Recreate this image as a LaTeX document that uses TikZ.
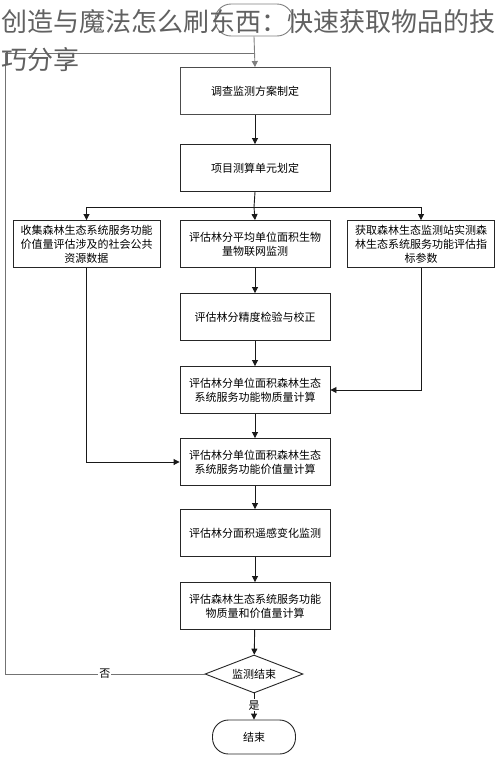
\documentclass[tikz,border=0pt]{standalone}
\usepackage{fontspec}
\newfontfamily\cjk{Noto Sans CJK SC}
\usetikzlibrary{shapes.geometric,arrows.meta}
\begin{document}
\begin{tikzpicture}[x=1pt,y=-1pt,
  box/.style={draw=black!85,line width=0.9pt,minimum width=150pt,minimum height=47pt,
    text width=146pt,align=center,inner sep=1pt,font=\cjk\fontsize{11}{14}\selectfont},
  wbox/.style={box,minimum width=147pt,text width=145pt},
  term/.style={draw=black!85,line width=0.9pt,rounded corners=16pt,minimum height=33pt,
    font=\cjk\fontsize{11}{14}\selectfont},
  dec/.style={draw=black!85,line width=0.9pt,diamond,aspect=2.6,inner sep=0pt,
    minimum width=98pt,minimum height=38pt,font=\cjk\fontsize{11}{14}\selectfont},
  arr/.style={draw=black!90,line width=0.9pt,-{Triangle[width=6pt,length=6pt]}},
  ln/.style={draw=black!90,line width=0.9pt},
  lbl/.style={fill=white,inner sep=1pt,font=\cjk\fontsize{11}{14}\selectfont},
  ttl/.style={anchor=west,inner sep=0pt,text=black!62,font=\cjk\fontsize{26}{30}\selectfont}
]
\useasboundingbox[fill=white] (0,0) rectangle (500,758);
\node[term,draw=black!50,minimum width=78pt,minimum height=32pt] (start) at (254,20) {};
\node[box,draw=black!70] (b1) at (255,91) {调查监测方案制定};
\node[box] (b2) at (255,168) {项目测算单元划定};
\node[wbox] (lft) at (86.5,244) {收集森林生态系统服务功能\\价值量评估涉及的社会公共\\资源数据};
\node[box] (mid) at (255,244) {评估林分平均单位面积生物\\量物联网监测};
\node[wbox] (rgt) at (421,244) {获取森林生态监测站实测森\\林生态系统服务功能评估指\\标参数};
\node[box] (b3) at (255,317) {评估林分精度检验与校正};
\node[box] (b4) at (255,390) {评估林分单位面积森林生态\\系统服务功能物质量计算};
\node[box] (b5) at (255,462) {评估林分单位面积森林生态\\系统服务功能价值量计算};
\node[box] (b6) at (255,533) {评估林分面积遥感变化监测};
\node[box] (b7) at (255,606) {评估森林生态系统服务功能\\物质量和价值量计算};
\node[dec] (dia) at (254,674) {监测结束};
\node[term,minimum width=83pt,minimum height=34pt] (fin) at (254,737) {结束};
\coordinate (br) at (254,207);
\coordinate (fbc) at (5,674);
\coordinate (jn) at (254,53);
% connectors
\draw[arr,draw=black!50] (start.south) -- (b1.north);
\draw[ln,draw=black!55] (dia.west) -- node[lbl,pos=0.5]{否} (fbc) |- (jn);
\draw[arr] (b1) -- (b2);
\draw[ln] (b2.south) -- (br);
\draw[arr] (br) -| (lft.north);
\draw[arr] (br) -| (rgt.north);
\draw[arr] (br) -- (mid.north);
\draw[arr] (mid) -- (b3);
\draw[arr] (b3) -- (b4);
\draw[arr] (rgt.south) |- (b4.east);
\draw[arr] (b4) -- (b5);
\draw[arr] (lft.south) |- (b5.west);
\draw[arr] (b5) -- (b6);
\draw[arr] (b6) -- (b7);
\draw[arr] (b7) -- (dia);
\draw[arr] (dia) -- node[lbl,pos=0.45]{是} (fin);
% title overlay
\node[ttl] (t1) at (1,22) {创造与魔法怎么刷东西：快速获取物品的技};
\node[ttl] (t2) at (1,60) {巧分享};
\end{tikzpicture}
\end{document}
